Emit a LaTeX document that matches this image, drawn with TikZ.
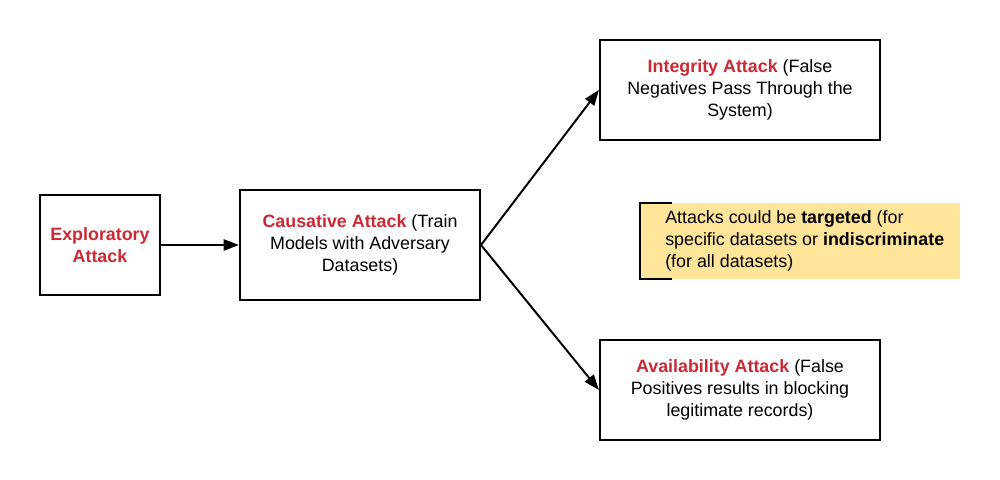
\documentclass[tikz,border=0pt]{standalone}
\usepackage{fontspec}
\setmainfont{Liberation Sans}
\usetikzlibrary{arrows.meta}
\definecolor{atkred}{RGB}{204,41,54}
\definecolor{noteyellow}{RGB}{255,229,153}
\begin{document}
\begin{tikzpicture}[x=0.025cm,y=-0.025cm,
  box/.style={draw=black,line width=1.4pt,fill=white,align=center,inner sep=2pt,
    font=\fontsize{12.7}{15.6}\selectfont},
  conn/.style={line width=1.4pt,-{Triangle[length=11pt,width=8pt]}}]
\useasboundingbox (0,0) rectangle (1000,480);
\node[box,minimum width=3cm,minimum height=2.5cm] (expl) at (100,245)
  {\textcolor{atkred}{\textbf{Exploratory}}\\\textcolor{atkred}{\textbf{Attack}}};
\node[box,minimum width=6cm,minimum height=2.75cm] (caus) at (360,245)
  {\textcolor{atkred}{\textbf{Causative Attack}} (Train\\Models with Adversary\\Datasets)};
\node[box,minimum width=7cm,minimum height=2.5cm] (integ) at (740,90)
  {\textcolor{atkred}{\textbf{Integrity Attack}} (False\\Negatives Pass Through the\\System)};
\node[box,minimum width=7cm,minimum height=2.5cm] (avail) at (740,390)
  {\textcolor{atkred}{\textbf{Availability Attack}} (False\\Positives results in blocking\\legitimate records)};
\node[fill=noteyellow,minimum width=8cm,minimum height=1.9cm,inner sep=0pt] (note) at (800,241) {};
\node[anchor=west,align=left,inner sep=0pt,font=\fontsize{12.7}{15.6}\selectfont] (notetext) at (665,241)
  {Attacks could be \textbf{targeted} (for\\specific datasets or \textbf{indiscriminate}\\(for all datasets)};
\coordinate (nbt) at ([xshift=0.8cm]note.north west);
\coordinate (nbb) at ([xshift=0.8cm]note.south west);
\draw[line width=1.4pt] (nbt) -- (note.north west) -- (note.south west) -- (nbb);
\draw[conn] (expl.east) -- (caus.west);
\draw[conn] (caus.east) -- (integ.west);
\draw[conn] (caus.east) -- (avail.west);
\end{tikzpicture}
\end{document}
